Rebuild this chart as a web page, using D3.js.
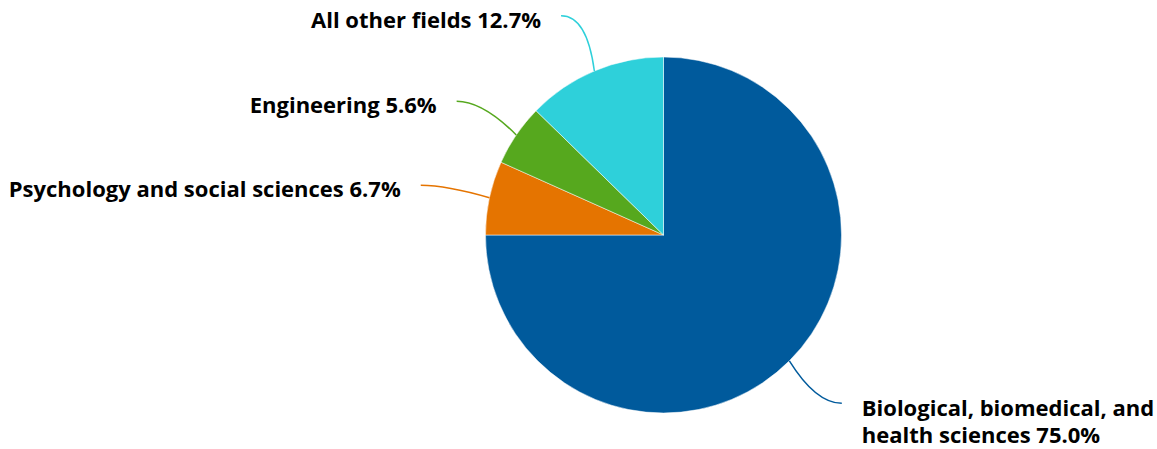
<!DOCTYPE html>
<html><head><meta charset="utf-8">
<script src="https://cdn.jsdelivr.net/npm/d3@7"></script>
<style>body{margin:0;background:#fff}svg{display:block}</style>
</head><body>
<svg id="c" width="1157" height="449"></svg>
<script>
const categories = ["Biological, biomedical, and health sciences", "Psychology and social sciences", "Engineering", "All other fields"];
const values = [75.0, 6.7, 5.6, 12.7];
const colors = ["#005a9c", "#e57400", "#56a81e", "#2ed0da"];
const labelLines = [["Biological, biomedical, and", "health sciences 75.0%"], ["Psychology and social sciences 6.7%"], ["Engineering 5.6%"], ["All other fields 12.7%"]];

const svg = d3.select("#c");
const cx = 663.5, cy = 235, r = 178, R = 238;
const data = categories.map((c, i) => ({c, v: values[i], col: colors[i], lines: labelLines[i]}));
const pie = d3.pie().value(d => d.v).sort(null);
const arc = d3.arc().innerRadius(0).outerRadius(r);
const g = svg.append("g").attr("transform", `translate(${cx},${cy})`);
const arcs = pie(data);
g.selectAll("path.s").data(arcs).join("path").attr("class", "s")
  .attr("d", arc).attr("fill", d => d.data.col).attr("stroke", "#fff").attr("stroke-width", 0.5);

arcs.forEach(a => {
  const m = (a.startAngle + a.endAngle) / 2;
  const sx = Math.sin(m), sy = -Math.cos(m);
  const x0 = r * sx, y0 = r * sy;
  const right = sx > 0;
  const ex = R * sx + (right ? 10 : -10), ey = R * sy;
  const kx = ex - (right ? 26 : -26), ky = ey;
  g.append("path").attr("d", `M${x0},${y0} Q${kx},${ky} ${ex},${ey}`)
    .attr("fill", "none").attr("stroke", a.data.col).attr("stroke-width", 1.5);
  const t = g.append("text").attr("x", ex + (right ? 20 : -20)).attr("y", ey + (a.data.lines.length > 1 ? 12.5 : 12))
    .attr("text-anchor", right ? "start" : "end")
    .attr("font-family", "'Open Sans', sans-serif").attr("font-weight", 700).attr("font-size", 22).attr("fill", "#000");
  a.data.lines.forEach((l, i) => t.append("tspan").attr("x", ex + (right ? 20 : -20)).attr("dy", i ? 27 : 0).text(l));
});
</script>
</body></html>
